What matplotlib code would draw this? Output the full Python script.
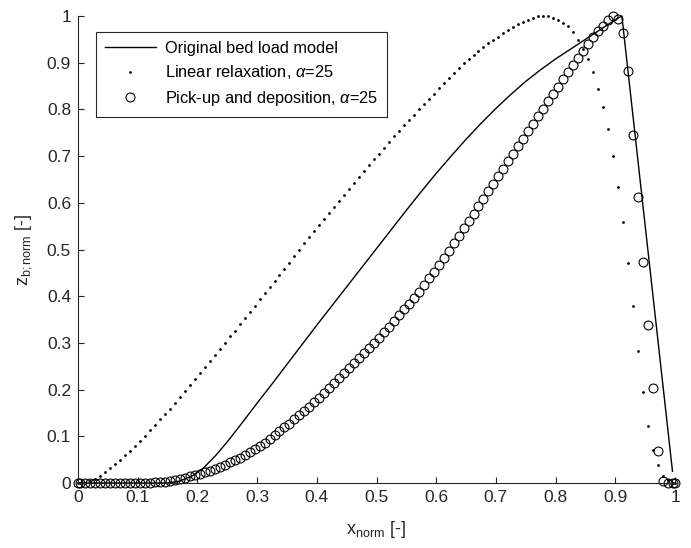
import numpy as np
import matplotlib
matplotlib.use("Agg")
import matplotlib.pyplot as plt
from matplotlib.ticker import FixedLocator, FixedFormatter

plt.rcParams['font.family'] = ['Liberation Sans', 'DejaVu Sans']
plt.rcParams['mathtext.fontset'] = 'custom'
plt.rcParams['mathtext.rm'] = 'Liberation Sans'
plt.rcParams['mathtext.it'] = 'Liberation Sans:italic'

# ---------------- data ----------------
n_cells = 120
x_cells = (np.arange(n_cells) + 0.5) / n_cells
x_grid = np.concatenate([[0.0], x_cells, [1.0]])

# Original bed load model (solid line)
orig_x = [0, 0.15, 0.17, 0.19, 0.21, 0.23, 0.25, 0.275, 0.30, 0.325, 0.35, 0.375,
          0.40, 0.425, 0.45, 0.475, 0.50, 0.525, 0.55, 0.575, 0.60, 0.625, 0.65,
          0.675, 0.70, 0.725, 0.75, 0.775, 0.80, 0.825, 0.85, 0.875, 0.90, 0.911,
          0.9958]
orig_y = [0, 0, 0.004, 0.014, 0.032, 0.058, 0.088, 0.129, 0.171, 0.212, 0.254, 0.296,
          0.338, 0.379, 0.420, 0.461, 0.502, 0.543, 0.584, 0.624, 0.663, 0.700, 0.736,
          0.770, 0.802, 0.832, 0.860, 0.885, 0.908, 0.929, 0.950, 0.971, 0.992, 1.0,
          0.025]

# Linear relaxation, alpha=25 (dots)
relax_y = [0.0,
    0.000, 0.001, 0.004, 0.009, 0.015, 0.024, 0.032, 0.040, 0.049, 0.059,
    0.069, 0.079, 0.091, 0.101, 0.113, 0.124, 0.136, 0.147, 0.159, 0.172,
    0.184, 0.196, 0.209, 0.222, 0.235, 0.248, 0.261, 0.274, 0.286, 0.300,
    0.314, 0.326, 0.340, 0.353, 0.366, 0.379, 0.393, 0.406, 0.419, 0.432,
    0.446, 0.459, 0.472, 0.486, 0.499, 0.513, 0.526, 0.539, 0.552, 0.565,
    0.578, 0.591, 0.604, 0.617, 0.630, 0.643, 0.656, 0.668, 0.681, 0.693,
    0.705, 0.718, 0.730, 0.742, 0.754, 0.766, 0.777, 0.789, 0.800, 0.812,
    0.823, 0.834, 0.845, 0.856, 0.867, 0.878, 0.889, 0.899, 0.908, 0.917,
    0.926, 0.934, 0.942, 0.949, 0.956, 0.963, 0.970, 0.976, 0.982, 0.987,
    0.992, 0.996, 0.999, 1.000, 0.999, 0.996, 0.991, 0.986, 0.979, 0.966,
    0.949, 0.930, 0.907, 0.880, 0.844, 0.805, 0.757, 0.700, 0.634, 0.558,
    0.471, 0.378, 0.283, 0.194, 0.122, 0.071, 0.038, 0.016, 0.006, 0.001,
    0.0]

# Pick-up and deposition, alpha=25 (circles)
pickup_y = [0.0,
    0.000, 0.000, 0.000, 0.000, 0.000, 0.000, 0.000, 0.000, 0.000, 0.000,
    0.000, 0.000, 0.001, 0.001, 0.001, 0.002, 0.002, 0.003, 0.004, 0.006,
    0.009, 0.011, 0.014, 0.017, 0.020, 0.023, 0.026, 0.030, 0.035, 0.039,
    0.044, 0.049, 0.054, 0.060, 0.066, 0.072, 0.079, 0.086, 0.094, 0.102,
    0.111, 0.119, 0.127, 0.136, 0.145, 0.154, 0.163, 0.173, 0.183, 0.193,
    0.203, 0.214, 0.225, 0.236, 0.246, 0.257, 0.267, 0.278, 0.289, 0.300,
    0.311, 0.323, 0.335, 0.347, 0.359, 0.372, 0.384, 0.397, 0.410, 0.424,
    0.438, 0.452, 0.467, 0.482, 0.497, 0.513, 0.529, 0.545, 0.561, 0.577,
    0.593, 0.609, 0.625, 0.641, 0.657, 0.673, 0.689, 0.705, 0.721, 0.737,
    0.753, 0.769, 0.785, 0.801, 0.817, 0.833, 0.849, 0.865, 0.880, 0.895,
    0.910, 0.925, 0.940, 0.954, 0.967, 0.979, 0.991, 1.000, 0.993, 0.964,
    0.882, 0.746, 0.612, 0.473, 0.339, 0.203, 0.068, 0.004, 0.000, 0.000,
    0.0]

tick_vals = [0, 0.1, 0.2, 0.3, 0.4, 0.5, 0.6, 0.7, 0.8, 0.9, 1]
tick_labels = ['0', '0.1', '0.2', '0.3', '0.4', '0.5', '0.6', '0.7', '0.8', '0.9', '1']

labels = ['Original bed load model',
          r'Linear relaxation, $\alpha$=25',
          r'Pick-up and deposition, $\alpha$=25']

# ---------------- plot ----------------
fig = plt.figure(figsize=(6.91, 5.48), dpi=100)
ax = fig.add_axes([78/691, 1 - 483/548, 597/691, 467/548])

dark = '#262626'
ax.plot(orig_x, orig_y, '-', color='black', lw=1.0, label=labels[0], clip_on=False)
ax.plot(x_grid, relax_y, 'o', color='black', ms=2.0, mew=0, ls='none',
        label=labels[1], clip_on=False)
ax.plot(x_grid, pickup_y, 'o', mfc='none', mec='black', ms=6.4, mew=0.8, ls='none',
        label=labels[2], clip_on=False)

ax.set_xlim(0, 1)
ax.set_ylim(0, 1)
for s in ['top', 'right']:
    ax.spines[s].set_visible(False)
for s in ['left', 'bottom']:
    ax.spines[s].set_color(dark)
    ax.spines[s].set_linewidth(0.8)

ax.xaxis.set_major_locator(FixedLocator(tick_vals))
ax.xaxis.set_major_formatter(FixedFormatter(tick_labels))
ax.yaxis.set_major_locator(FixedLocator(tick_vals))
ax.yaxis.set_major_formatter(FixedFormatter(tick_labels))
ax.tick_params(direction='in', length=4.5, width=0.8, colors=dark,
               labelsize=12.5, pad=5)

ax.set_xlabel(r'x$_{\mathrm{norm}}$ [-]', fontsize=13, color=dark, labelpad=10)
ax.set_ylabel(r'z$_{\mathrm{b;norm}}$ [-]', fontsize=13, color=dark, labelpad=9)

leg = ax.legend(loc='upper left', bbox_to_anchor=(0.030, 0.966), borderaxespad=0,
                fontsize=11.8, frameon=True, fancybox=False, framealpha=1,
                edgecolor=dark, handlelength=3.1, handletextpad=0.55,
                labelspacing=0.45, borderpad=0.55)
leg.get_frame().set_linewidth(0.8)
for t in leg.get_texts():
    t.set_color('black')

fig.savefig('out.png', dpi=100)
